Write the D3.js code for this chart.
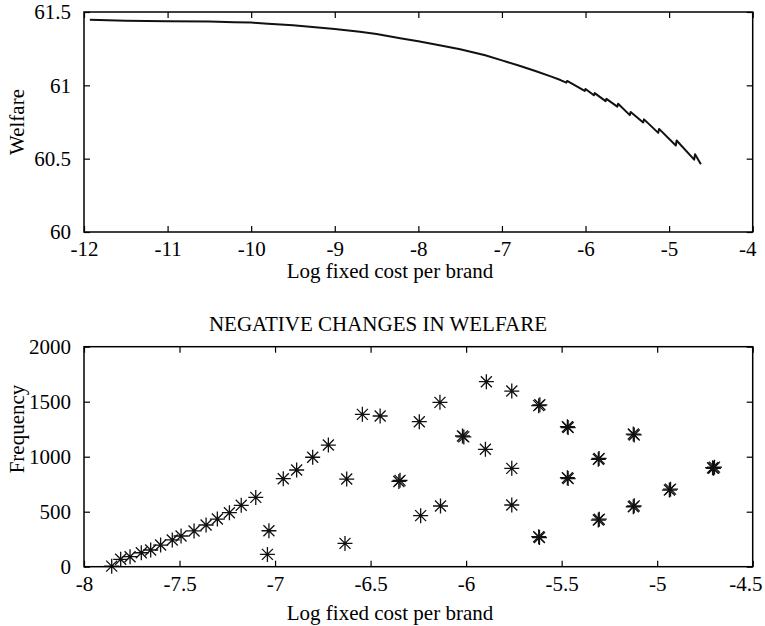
<!DOCTYPE html>
<html>
<head>
<meta charset="utf-8">
<script src="https://cdn.jsdelivr.net/npm/d3@7"></script>
<style>
  body { margin: 0; background: #fff; }
  text { font-family: "Liberation Serif", "Times New Roman", serif; font-size: 21px; fill: #000; }
</style>
</head>
<body>
<div class="chart"></div>
<script>
var svgWidth = 765;
var svgHeight = 626;

// top panel: welfare vs log fixed cost
var welfareX = [-11.93, -11.5, -11, -10.5, -10.2, -10, -9.8, -9.5, -9.2, -9, -8.7, -8.5, -8.2, -8, -7.7, -7.5, -7.2, -7, -6.8, -6.6, -6.4, -6.3,
  -6.23, -6.22, -6.01, -6.0, -5.90, -5.89, -5.76, -5.75, -5.62, -5.61, -5.47, -5.46, -5.31, -5.30, -5.13, -5.12, -4.92, -4.91, -4.70, -4.69, -4.62];
var welfareY = [61.447, 61.440, 61.437, 61.435, 61.430, 61.428, 61.420, 61.410, 61.395, 61.384, 61.365, 61.350, 61.320, 61.300, 61.268, 61.246, 61.205, 61.170, 61.135, 61.098, 61.058, 61.036,
  61.018, 61.030, 60.962, 60.975, 60.932, 60.947, 60.892, 60.908, 60.855, 60.874, 60.797, 60.818, 60.747, 60.768, 60.676, 60.703, 60.590, 60.624, 60.493, 60.530, 60.462];
var topXTicks = [-12, -11, -10, -9, -8, -7, -6, -5, -4];
var topYTicks = [60, 60.5, 61, 61.5];

// bottom panel: frequency of negative welfare changes
var freqX = [-7.855, -7.808, -7.759, -7.700, -7.651, -7.599, -7.538, -7.492, -7.424, -7.361, -7.302, -7.239, -7.177, -7.101,
  -6.957, -6.887, -6.803, -6.721, -6.543, -6.450, -6.625, -6.634, -7.032, -7.040,
  -6.346, -6.352, -6.245, -6.238, -6.137, -6.134, -6.019, -6.012, -5.894, -5.899, -5.761, -5.761, -5.761,
  -5.620, -5.614, -5.620, -5.616, -5.470, -5.466, -5.470, -5.466, -5.308, -5.304, -5.308, -5.303,
  -5.125, -5.120, -5.125, -5.120, -4.936, -4.930, -4.710, -4.700, -4.705];
var freqY = [5, 67, 91, 127, 152, 197, 243, 279, 325, 379, 433, 491, 558, 630,
  800, 879, 995, 1106, 1385, 1370, 797, 212, 327, 112,
  785, 775, 1318, 464, 1494, 552, 1188, 1180, 1682, 1067, 1597, 894, 561,
  1464, 1472, 273, 265, 1273, 1265, 809, 801, 976, 984, 424, 432,
  1206, 1198, 545, 553, 697, 705, 900, 905, 895];
var botXTicks = [-8, -7.5, -7, -6.5, -6, -5.5, -5, -4.5];
var botYTicks = [0, 500, 1000, 1500, 2000];

var svg = d3.select(".chart")
  .append("svg")
  .attr("width", svgWidth)
  .attr("height", svgHeight);

// draws a MATLAB style boxed axes with inward ticks on all sides
function drawFrame(x, y, xTicks, yTicks, lastRight) {
  var g = svg.append("g");
  var fmt = function(d) { return String(d); };
  var x0 = x.range()[0], x1 = x.range()[1];
  var y0 = y.range()[0], y1 = y.range()[1];

  var bottom = g.append("g").attr("transform", "translate(0," + y0 + ")")
    .call(d3.axisBottom(x).tickValues(xTicks).tickFormat(fmt).tickSizeInner(-6).tickSizeOuter(0).tickPadding(9));
  g.append("g").attr("transform", "translate(0," + y1 + ")")
    .call(d3.axisTop(x).tickValues(xTicks).tickFormat("").tickSizeInner(-6).tickSizeOuter(0));
  g.append("g").attr("transform", "translate(" + x0 + ",0)")
    .call(d3.axisLeft(y).tickValues(yTicks).tickFormat(fmt).tickSizeInner(-6).tickSizeOuter(0).tickPadding(13));
  g.append("g").attr("transform", "translate(" + x1 + ",0)")
    .call(d3.axisRight(y).tickValues(yTicks).tickFormat("").tickSizeInner(-6).tickSizeOuter(0));

  g.selectAll(".domain").remove();
  g.selectAll(".tick line").attr("stroke", "#000").attr("stroke-width", 1.2);
  g.selectAll(".tick text").attr("font-family", "Liberation Serif").attr("font-size", 21);

  // the last x label sits pulled in from the right edge of the figure
  bottom.selectAll(".tick text")
    .filter(function(d) { return d === xTicks[xTicks.length - 1]; })
    .attr("text-anchor", "end")
    .attr("x", lastRight - x1);

  g.append("rect")
    .attr("x", x0).attr("y", y1)
    .attr("width", x1 - x0).attr("height", y0 - y1)
    .attr("fill", "none").attr("stroke", "#000").attr("stroke-width", 1.5);
  return g;
}

// ---- top panel
var xTop = d3.scaleLinear().domain([-12, -4]).range([84, 752.7]);
var yTop = d3.scaleLinear().domain([60, 61.5]).range([232, 12]);

var welfare = welfareX.map(function(d, i) { return [d, welfareY[i]]; });
svg.append("path")
  .datum(welfare)
  .attr("fill", "none")
  .attr("stroke", "#111")
  .attr("stroke-width", 2)
  .attr("stroke-linejoin", "round")
  .attr("d", d3.line().x(function(d) { return xTop(d[0]); }).y(function(d) { return yTop(d[1]); }));

drawFrame(xTop, yTop, topXTicks, topYTicks, 756);

svg.append("text")
  .attr("x", 390).attr("y", 278)
  .attr("text-anchor", "middle")
  .text("Log fixed cost per brand");

svg.append("text")
  .attr("transform", "translate(24,122) rotate(-90)")
  .attr("text-anchor", "middle")
  .text("Welfare");

// ---- bottom panel
var xBot = d3.scaleLinear().domain([-8, -4.5]).range([84, 752.7]);
var yBot = d3.scaleLinear().domain([0, 2000]).range([566.7, 346.7]);

var freq = freqX.map(function(d, i) { return [d, freqY[i]]; });
var a = 7.5, b = 5.5;
var star = "M" + (-a) + ",0L" + a + ",0M0," + (-a) + "L0," + a +
  "M" + (-b) + "," + (-b) + "L" + b + "," + b + "M" + (-b) + "," + b + "L" + b + "," + (-b);

svg.append("g").selectAll("path")
  .data(freq)
  .enter()
  .append("path")
  .attr("transform", function(d) { return "translate(" + xBot(d[0]) + "," + yBot(d[1]) + ")"; })
  .attr("d", star)
  .attr("fill", "none")
  .attr("stroke", "#111")
  .attr("stroke-width", 1.3);

drawFrame(xBot, yBot, botXTicks, botYTicks, 762);

svg.append("text")
  .attr("x", 378).attr("y", 331)
  .attr("text-anchor", "middle")
  .text("NEGATIVE CHANGES IN WELFARE");

svg.append("text")
  .attr("x", 390).attr("y", 620)
  .attr("text-anchor", "middle")
  .text("Log fixed cost per brand");

svg.append("text")
  .attr("transform", "translate(24,429) rotate(-90)")
  .attr("text-anchor", "middle")
  .text("Frequency");
</script>
</body>
</html>
